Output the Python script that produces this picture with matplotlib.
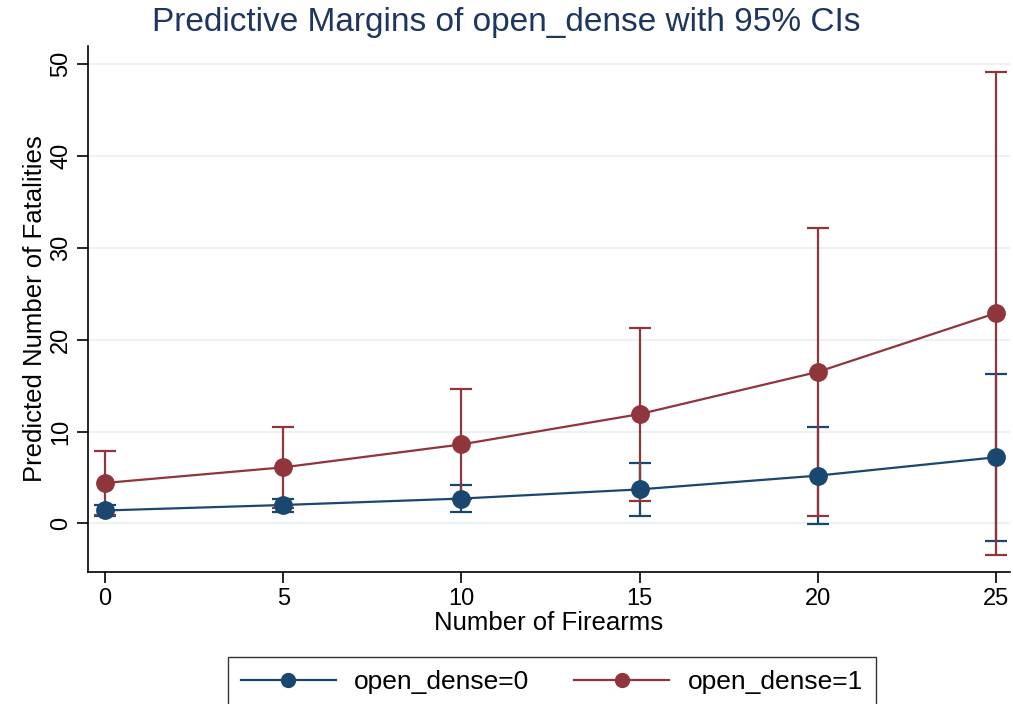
import matplotlib.pyplot as plt
import numpy as np

plt.rcParams['font.family'] = ['Liberation Sans', 'DejaVu Sans']

# data
firearms = [0, 5, 10, 15, 20, 25]
margin0 = [1.4, 2.0, 2.7, 3.7, 5.2, 7.2]
lo0 = [0.8, 1.2, 1.2, 0.8, -0.1, -1.9]
hi0 = [2.0, 2.7, 4.2, 6.6, 10.5, 16.3]
margin1 = [4.4, 6.1, 8.6, 11.9, 16.5, 22.9]
lo1 = [0.9, 1.7, 2.6, 2.4, 0.8, -3.4]
hi1 = [7.9, 10.5, 14.6, 21.3, 32.2, 49.2]
labels = ['open_dense=0', 'open_dense=1']

navy = '#1a476f'
maroon = '#90353b'
grid_col = '#eaf2f3'

W, H = 1013, 704
fig = plt.figure(figsize=(W / 100, H / 100), dpi=100)
ax = fig.add_axes([88 / W, 1 - 572 / H, (1010 - 88) / W, (572 - 46) / H])

series = [(margin0, lo0, hi0, navy, labels[0]), (margin1, lo1, hi1, maroon, labels[1])]
handles = []
for m, lo, hi, col, lab in series:
    m = np.array(m)
    err = [m - np.array(lo), np.array(hi) - m]
    ax.errorbar(firearms, m, yerr=err, fmt='none', ecolor=col, elinewidth=1.6,
                capsize=8, capthick=1.6, zorder=2)
    h, = ax.plot(firearms, m, color=col, lw=1.6, marker='o', ms=12.5, zorder=3, label=lab)
    handles.append(h)

ax.set_xlim(-0.477, 25.39)
ax.set_ylim(-5.3, 52)
ax.set_xticks(firearms)
ax.set_yticks([0, 10, 20, 30, 40, 50])
ax.grid(axis='y', color=grid_col, lw=1.5)
ax.set_axisbelow(True)
for s in ['top', 'right']:
    ax.spines[s].set_visible(False)
for s in ['left', 'bottom']:
    ax.spines[s].set_linewidth(1.2)
ax.tick_params(labelsize=17, length=8, width=1.2, direction='out')
plt.setp(ax.get_yticklabels(), rotation=90, va='center')

ax.set_xlabel('Number of Firearms', fontsize=18.5, labelpad=1)
ax.set_ylabel('Predicted Number of Fatalities', fontsize=18.5, labelpad=2)
fig.text(0.5, 1 - 23 / H, 'Predictive Margins of open_dense with 95% CIs',
         ha='center', va='center', fontsize=24, color='#1e3560')

fig.legend(handles=handles, loc='upper center', bbox_to_anchor=(552 / W, 1 - 657 / H),
           ncol=2, fontsize=19, frameon=True, fancybox=False, edgecolor='black',
           markerscale=0.8, handlelength=3.6, handletextpad=0.7, columnspacing=1.7,
           borderpad=0.5, borderaxespad=0)

fig.savefig('out.png', dpi=100)
